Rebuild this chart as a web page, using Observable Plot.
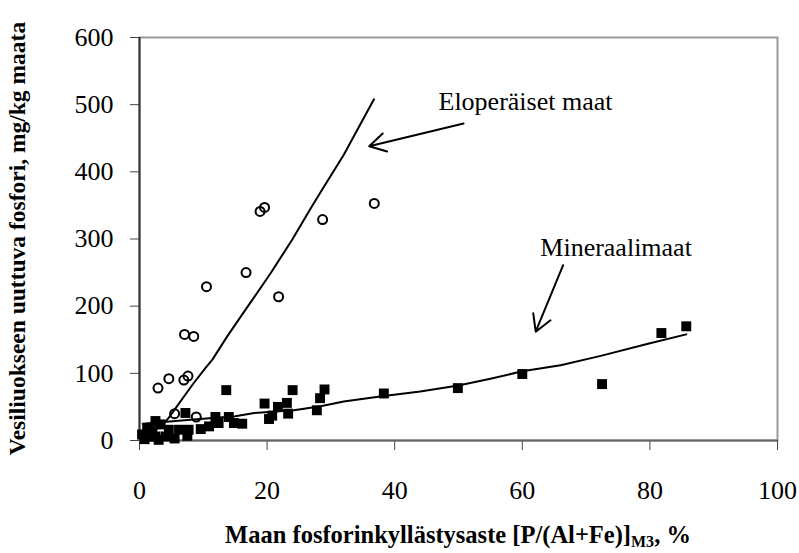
<!DOCTYPE html>
<html><head><meta charset="utf-8">
<script src="https://cdn.jsdelivr.net/npm/d3@7"></script>
<script src="https://cdn.jsdelivr.net/npm/@observablehq/plot@0.6"></script>
<style>body{margin:0;background:#fff}</style>
</head><body><div id="chart"></div>
<script>
// Eloperäiset maat (organic soils) – open circles
const organicX = [1.8, 2.6, 2.9, 4.6, 5.5, 6.95, 7.06, 7.6, 8.5, 8.9, 10.5, 16.7, 18.9, 19.6, 21.8, 28.7, 36.8];
const organicY = [12, 24, 78, 92, 40, 90, 158, 96, 155, 35, 229, 250, 341, 347, 214, 329, 353];
// Mineraalimaat (mineral soils) – filled squares
const mineralX = [0.4, 0.8, 1.2, 1.5, 2.0, 2.5, 2.5, 3.0, 3.3, 4.1, 4.6, 5.5, 6.2, 7.2, 7.5, 7.7, 9.6, 10.9, 11.9, 12.4, 13.6, 14.0, 14.8, 16.1, 19.6, 20.3, 20.8, 21.7, 23.1, 23.3, 24.0, 27.8, 28.3, 29.0, 38.3, 49.9, 60.0, 72.5, 81.8, 85.7];
const mineralY = [9, 2, 18, 6, 14, 6, 29, 1, 24, 6, 16, 3, 16, 41, 7, 16, 17, 21, 35, 26, 75, 35, 26, 25, 55, 32, 37, 50, 56, 40, 75, 45, 63, 76, 70, 78, 99, 84, 160, 170];
// Trend lines
const organicFitX = [3.5, 4.6, 8.3, 10.35, 11.4, 13.75, 17, 20.55, 24, 26.8, 28.4, 32, 36.75];
const organicFitY = [22, 34, 83, 108, 120, 155, 200, 249, 300, 345, 370, 425, 508];
const mineralFitX = [0.5, 8, 15, 18, 24.2, 28.4, 32, 38, 44, 50, 55, 60, 66, 72.3, 79.7, 85.7];
const mineralFitY = [25, 31, 36, 41, 45, 51, 58, 66, 73, 82, 92, 103, 112, 126, 144, 158];
// Annotations
const annoText = ["Eloperäiset maat", "Mineraalimaat"];
const annoX = [60.5, 74.7];
const annoY = [505, 287];
const arrowX1 = [50.8, 66.4];
const arrowY1 = [472, 261];
const arrowX2 = [36.0, 62.1];
const arrowY2 = [438, 162];
// Ticks
const xTicks = [0, 20, 40, 60, 80, 100];
const yTicks = [0, 100, 200, 300, 400, 500, 600];
const xTitle = "Maan fosforinkyllästysaste [P/(Al+Fe)]";
const xTitleSub = "M3";
const xTitleEnd = ", %";
const yTitle = "Vesiliuokseen uuttuva fosfori, mg/kg maata";

const organic = organicX.map((x, i) => ({x, y: organicY[i]}));
const mineral = mineralX.map((x, i) => ({x, y: mineralY[i]}));
const organicFit = organicFitX.map((x, i) => ({x, y: organicFitY[i]}));
const mineralFit = mineralFitX.map((x, i) => ({x, y: mineralFitY[i]}));
const annos = annoText.map((t, i) => ({t, x: annoX[i], y: annoY[i]}));
const arrows = arrowX1.map((x1, i) => ({x1, y1: arrowY1[i], x2: arrowX2[i], y2: arrowY2[i]}));

const serif = "'Liberation Serif', 'Times New Roman', Times, serif";
const plot = Plot.plot({
  width: 799, height: 553,
  marginLeft: 139, marginRight: 22, marginTop: 37, marginBottom: 113,
  style: {fontFamily: serif, fontSize: "26px", color: "#000", background: "#fff", overflow: "visible"},
  x: {domain: [0, 100], label: null},
  y: {domain: [0, 600], label: null},
  marks: [
    Plot.frame({stroke: "#999", strokeWidth: 2}),
    Plot.axisY({ticks: yTicks, tickSize: 9, tickPadding: 17, label: null, fontSize: 26, stroke: "#444"}),
    Plot.axisX({ticks: xTicks, tickSize: 10, tickPadding: 30, label: null, fontSize: 26, stroke: "#444"}),
    Plot.ruleX([0], {stroke: "#333", strokeWidth: 2}),
    Plot.ruleY([0], {stroke: "#666", strokeWidth: 2}),
    Plot.line(mineralFit, {x: "x", y: "y", stroke: "#000", strokeWidth: 2}),
    Plot.line(organicFit, {x: "x", y: "y", stroke: "#000", strokeWidth: 2}),
    Plot.dot(organic, {x: "x", y: "y", r: 4.5, stroke: "#000", strokeWidth: 2, fill: "none"}),
    Plot.dot(mineral, {x: "x", y: "y", symbol: "square", r: 5.6, fill: "#000", stroke: "none"}),
    Plot.arrow(arrows, {x1: "x1", y1: "y1", x2: "x2", y2: "y2", stroke: "#000", strokeWidth: 2, headLength: 14, bend: 0}),
    Plot.text(annos, {x: "x", y: "y", text: "t", fontSize: 26, fill: "#000", fontFamily: serif})
  ]
});
document.getElementById("chart").appendChild(plot);

const sx = plot.scale("x"), sy = plot.scale("y");
const cx = (sx.apply(0) + sx.apply(100)) / 2;
const cy = (sy.apply(0) + sy.apply(600)) / 2;
const svg = d3.select(plot);
const xt = svg.append("text")
  .attr("x", cx).attr("y", 543)
  .attr("text-anchor", "middle")
  .attr("font-family", serif).attr("font-weight", "bold").attr("font-size", 24.5).attr("fill", "#000");
xt.append("tspan").text(xTitle);
xt.append("tspan").attr("font-size", 16).attr("dy", 4).text(xTitleSub);
xt.append("tspan").attr("dy", -4).text(xTitleEnd);
svg.append("text")
  .attr("transform", `translate(25,${cy}) rotate(-90)`)
  .attr("text-anchor", "middle")
  .attr("font-family", serif).attr("font-weight", "bold").attr("font-size", 23.5).attr("fill", "#000")
  .text(yTitle);
</script>
</body></html>
